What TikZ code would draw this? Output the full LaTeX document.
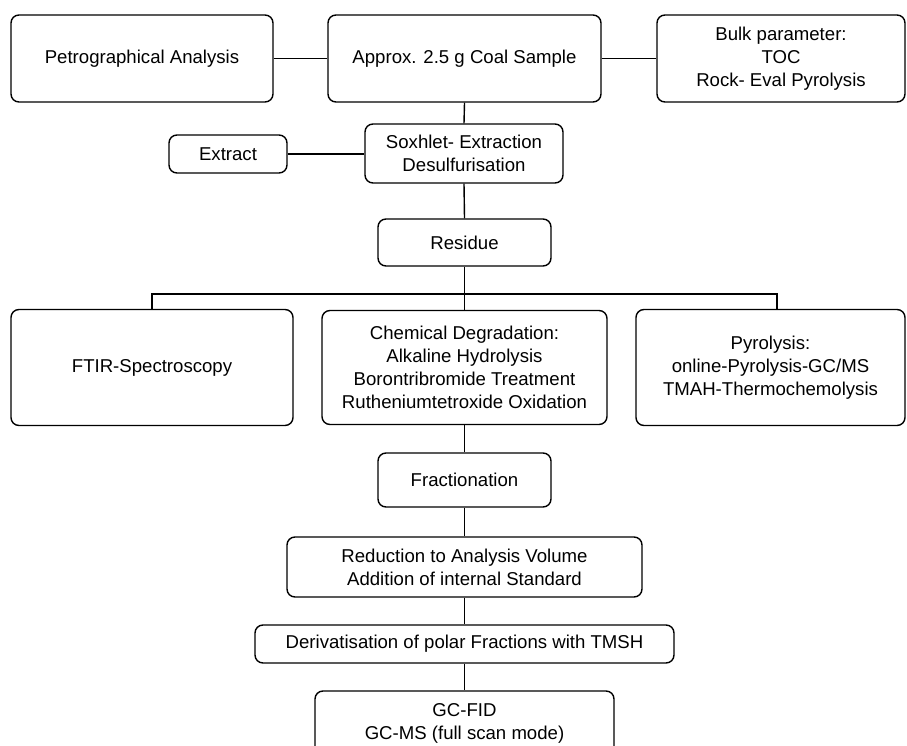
\documentclass[tikz,border=0pt]{standalone}
\usepackage{fontspec}
\setmainfont{Liberation Sans}
\usetikzlibrary{calc}
\tikzset{
	procbox/.style={draw, rounded corners=8pt, line width=1.4pt, align=center, inner sep=0pt,
		font=\fontsize{18.6}{23}\selectfont},
	link/.style={line width=1.4pt}
}

\begin{document}
\begin{tikzpicture}[x=1pt, y=-1pt]
			%%%%% START %%%%%
			\useasboundingbox (0, 0) rectangle (907, 746);
			
			\node[procbox, minimum width=262, minimum height=87] (petro) at (142, 58.5) {Petrographical Analysis};
			\node[procbox, minimum width=273, minimum height=87] (coal) at (464.5, 58.5) {Approx. 2.5 g Coal Sample};
			\node[procbox, minimum width=248, minimum height=87] (bulk) at (781, 58.5) {Bulk parameter:\\TOC\\Rock- Eval Pyrolysis};
			
			\node[procbox, minimum width=198, minimum height=59] (soxhlet) at (464, 153.5) {Soxhlet- Extraction\\Desulfurisation};
			\node[procbox, minimum width=118, minimum height=38] (extract) at (228, 154) {Extract};
			\node[procbox, minimum width=173, minimum height=47] (residue) at (464.5, 242.5) {Residue};
			
			\node[procbox, minimum width=282, minimum height=116] (ftir) at (152, 367.5) {FTIR-Spectroscopy};
			\node[procbox, minimum width=285, minimum height=114] (chem) at (464.5, 367.5) {Chemical Degradation:\\Alkaline Hydrolysis\\Borontribromide Treatment\\Rutheniumtetroxide Oxidation};
			\node[procbox, minimum width=269, minimum height=116] (pyro) at (770.5, 367.5) {Pyrolysis:\\online-Pyrolysis-GC/MS\\TMAH-Thermochemolysis};
			
			\node[procbox, minimum width=173, minimum height=54] (frac) at (464.5, 480) {Fractionation};
			\node[procbox, minimum width=355, minimum height=60] (reduc) at (464.5, 567) {Reduction to Analysis Volume\\Addition of internal Standard};
			\node[procbox, minimum width=419, minimum height=38] (deriv) at (464.5, 644) {Derivatisation of polar Fractions with TMSH};
			\node[procbox, minimum width=299, minimum height=64] (gc) at (464.5, 723) {GC-FID\\GC-MS (full scan mode)};
			
			% top row
			\draw[link] (petro.east) -- (coal.west);
			\draw[link] (coal.east) -- (bulk.west);
			\draw[link] (coal.south) -- (soxhlet.north);
			\draw[link] (extract.east) -- (extract.east -| soxhlet.west);
			\draw[link] (soxhlet.south) -- (residue.north);
			
			% branching
			\coordinate (bar) at (464.5, 294);
			\draw[link] (residue.south) -- (chem.north);
			\draw[link] (ftir.north) |- (bar) -| ([xshift=6.5]pyro.north);
			
			% down the middle
			\draw[link] (chem.south) -- (frac.north);
			\draw[link] (frac.south) -- (reduc.north);
			\draw[link] (reduc.south) -- (deriv.north);
			\draw[link] (deriv.south) -- (gc.north);
			
			%%%%% END %%%%%
		\end{tikzpicture}
\end{document}
